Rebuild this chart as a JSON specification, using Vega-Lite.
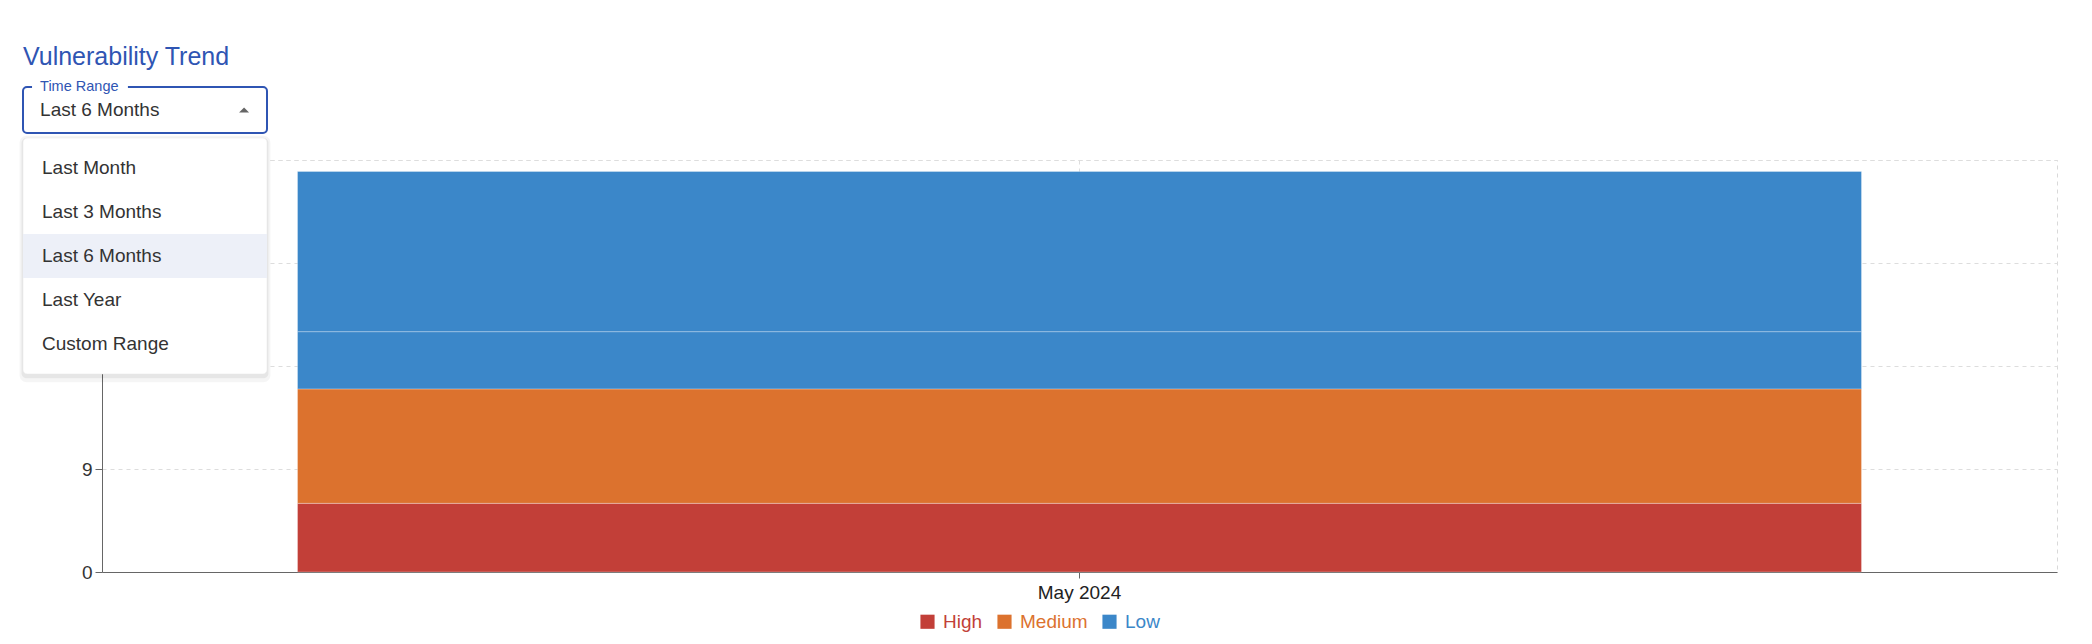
{
  "$schema": "https://vega.github.io/schema/vega-lite/v6.json",
  "autosize": {"type": "none"},
  "padding": {"left": 102, "top": 160, "right": 35, "bottom": 72},
  "width": 1955,
  "height": 412,
  "background": "white",
  "title": {
    "text": "Vulnerability Trend",
    "anchor": "start",
    "frame": "group",
    "dx": -79,
    "dy": 24,
    "offset": 13,
    "baseline": "alphabetic",
    "fontSize": 25,
    "fontWeight": "normal",
    "color": "#2f55b3",
    "font": "Liberation Sans"
  },
  "resolve": {"scale": {"x": "independent", "y": "independent"}},
  "layer": [
    {
      "data": {"values": [
        {"month": "May 2024", "severity": "High", "count": 6, "rank": 1},
        {"month": "May 2024", "severity": "Medium", "count": 10, "rank": 2},
        {"month": "May 2024", "severity": "Low", "count": 5, "rank": 3},
        {"month": "May 2024", "severity": "Low", "count": 14, "rank": 4}
      ]},
      "mark": {"type": "bar", "stroke": "#ffffff", "strokeWidth": 1, "strokeOpacity": 0.3},
      "encoding": {
        "x": {
          "field": "month", "type": "nominal",
          "scale": {"paddingInner": 0.2, "paddingOuter": 0.1},
          "axis": {"title": null, "labelAngle": 0, "grid": true, "bandPosition": 0.5, "tickSize": 6, "labelPadding": 5, "labelFontSize": 19, "labelColor": "#222222"}
        },
        "y": {
          "field": "count", "type": "quantitative", "stack": "zero",
          "scale": {"domain": [0, 36], "nice": false},
          "axis": {"title": null, "values": [0, 9, 18, 27, 36], "labelExpr": "datum.value <= 9 ? datum.label : ''", "tickSize": 7, "labelPadding": 3, "labelFontSize": 19, "labelColor": "#333333"}
        },
        "color": {
          "field": "severity", "type": "nominal",
          "scale": {"domain": ["High", "Medium", "Low"], "range": ["#c23f38", "#dc722e", "#3b87c9"]},
          "legend": {
            "title": null,
            "orient": "none",
            "direction": "horizontal",
            "legendX": 816,
            "legendY": 452,
            "padding": 0,
            "symbolType": "square",
            "symbolSize": 200,
            "symbolStrokeWidth": 0,
            "symbolOpacity": 1,
            "labelFontSize": 19,
            "labelOffset": 6,
            "columnPadding": 12,
            "labelColor": {"expr": "scale('color', datum.value)"}
          }
        },
        "order": {"field": "rank", "type": "quantitative"}
      }
    },
    {
      "data": {"values": [{}]},
      "mark": {"type": "rect", "fill": "#000000", "opacity": 0.04, "cornerRadius": 7},
      "encoding": {
        "x": {"datum": -0.014, "type": "quantitative", "scale": {"domain": [0, 1], "range": [-79, 165], "nice": false, "zero": false}, "axis": null},
        "x2": {"datum": 1.014},
        "y": {"datum": -0.01, "type": "quantitative", "scale": {"domain": [0, 1], "range": [-22, 214], "nice": false, "zero": false}, "axis": null},
        "y2": {"datum": 1.035}
      }
    },
    {
      "data": {"values": [{}]},
      "mark": {"type": "rect", "fill": "#000000", "opacity": 0.06, "cornerRadius": 5},
      "encoding": {
        "x": {"datum": -0.006, "type": "quantitative", "scale": {"domain": [0, 1], "range": [-79, 165], "nice": false, "zero": false}, "axis": null},
        "x2": {"datum": 1.006},
        "y": {"datum": 0, "type": "quantitative", "scale": {"domain": [0, 1], "range": [-22, 214], "nice": false, "zero": false}, "axis": null},
        "y2": {"datum": 1.018}
      }
    },
    {
      "data": {"values": [{}]},
      "mark": {"type": "rect", "fill": "#ffffff", "cornerRadius": 4, "stroke": "#e4e4e4", "strokeWidth": 0.5},
      "encoding": {
        "x": {"datum": 0, "type": "quantitative", "scale": {"domain": [0, 1], "range": [-79, 165], "nice": false, "zero": false}, "axis": null},
        "x2": {"datum": 1},
        "y": {"datum": 0, "type": "quantitative", "scale": {"domain": [0, 1], "range": [-22, 214], "nice": false, "zero": false}, "axis": null},
        "y2": {"datum": 1}
      }
    },
    {
      "data": {"values": [
        {"option": "Last Month", "selected": false},
        {"option": "Last 3 Months", "selected": false},
        {"option": "Last 6 Months", "selected": true},
        {"option": "Last Year", "selected": false},
        {"option": "Custom Range", "selected": false}
      ]},
      "transform": [{"filter": "datum.selected"}],
      "mark": {"type": "rect", "fill": "#edf0f8"},
      "encoding": {
        "x": {"datum": 0, "type": "quantitative", "scale": {"domain": [0, 1], "range": [-79, 165], "nice": false, "zero": false}, "axis": null},
        "x2": {"datum": 1},
        "y": {"field": "option", "type": "nominal", "scale": {"domain": ["Last Month", "Last 3 Months", "Last 6 Months", "Last Year", "Custom Range"], "range": [-14, 206], "paddingInner": 0, "paddingOuter": 0}, "axis": null}
      }
    },
    {
      "data": {"values": [
        {"option": "Last Month", "selected": false},
        {"option": "Last 3 Months", "selected": false},
        {"option": "Last 6 Months", "selected": true},
        {"option": "Last Year", "selected": false},
        {"option": "Custom Range", "selected": false}
      ]},
      "mark": {"type": "text", "align": "left", "baseline": "middle", "fontSize": 19, "color": "#333333", "font": "Liberation Sans"},
      "encoding": {
        "x": {"datum": 0.078, "type": "quantitative", "scale": {"domain": [0, 1], "range": [-79, 165], "nice": false, "zero": false}, "axis": null},
        "y": {"field": "option", "type": "nominal", "scale": {"domain": ["Last Month", "Last 3 Months", "Last 6 Months", "Last Year", "Custom Range"], "range": [-14, 206], "paddingInner": 0, "paddingOuter": 0}, "axis": null},
        "text": {"field": "option"}
      }
    },
    {
      "data": {"values": [{"label": "Time Range", "value": "Last 6 Months"}]},
      "mark": {"type": "rect", "fill": "#ffffff", "stroke": "#2f55b3", "strokeWidth": 2, "cornerRadius": 4},
      "encoding": {
        "x": {"datum": 0, "type": "quantitative", "scale": {"domain": [0, 1], "range": [-79, 165], "nice": false, "zero": false}, "axis": null},
        "x2": {"datum": 1},
        "y": {"datum": 0, "type": "quantitative", "scale": {"domain": [0, 1], "range": [-73, -27], "nice": false, "zero": false}, "axis": null},
        "y2": {"datum": 1}
      }
    },
    {
      "data": {"values": [{"label": "Time Range", "value": "Last 6 Months"}]},
      "mark": {"type": "rect", "fill": "#ffffff"},
      "encoding": {
        "x": {"datum": 0.037, "type": "quantitative", "scale": {"domain": [0, 1], "range": [-79, 165], "nice": false, "zero": false}, "axis": null},
        "x2": {"datum": 0.43},
        "y": {"datum": -0.12, "type": "quantitative", "scale": {"domain": [0, 1], "range": [-73, -27], "nice": false, "zero": false}, "axis": null},
        "y2": {"datum": 0.12}
      }
    },
    {
      "data": {"values": [{"label": "Time Range", "value": "Last 6 Months"}]},
      "mark": {"type": "text", "align": "left", "baseline": "middle", "fontSize": 14.5, "color": "#2f55b3", "font": "Liberation Sans"},
      "encoding": {
        "x": {"datum": 0.07, "type": "quantitative", "scale": {"domain": [0, 1], "range": [-79, 165], "nice": false, "zero": false}, "axis": null},
        "y": {"datum": 0, "type": "quantitative", "scale": {"domain": [0, 1], "range": [-73, -27], "nice": false, "zero": false}, "axis": null},
        "text": {"field": "label"}
      }
    },
    {
      "data": {"values": [{"label": "Time Range", "value": "Last 6 Months"}]},
      "mark": {"type": "text", "align": "left", "baseline": "middle", "fontSize": 19, "color": "#333333", "font": "Liberation Sans"},
      "encoding": {
        "x": {"datum": 0.07, "type": "quantitative", "scale": {"domain": [0, 1], "range": [-79, 165], "nice": false, "zero": false}, "axis": null},
        "y": {"datum": 0.5, "type": "quantitative", "scale": {"domain": [0, 1], "range": [-73, -27], "nice": false, "zero": false}, "axis": null},
        "text": {"field": "value"}
      }
    },
    {
      "data": {"values": [{"label": "Time Range", "value": "Last 6 Months"}]},
      "mark": {"type": "point", "shape": "M-1,0.5L1,0.5L0,-0.5Z", "filled": true, "fill": "#666666", "opacity": 1, "size": 100},
      "encoding": {
        "x": {"datum": 0.906, "type": "quantitative", "scale": {"domain": [0, 1], "range": [-79, 165], "nice": false, "zero": false}, "axis": null},
        "y": {"datum": 0.5, "type": "quantitative", "scale": {"domain": [0, 1], "range": [-73, -27], "nice": false, "zero": false}, "axis": null}
      }
    }
  ],
  "config": {
    "font": "Liberation Sans",
    "view": {"stroke": "#d9d9d9", "strokeDash": [4, 4]},
    "axis": {
      "domainColor": "#666666",
      "tickColor": "#666666",
      "gridColor": "#dddddd",
      "gridDash": [4, 4],
      "labelFont": "Liberation Sans"
    },
    "legend": {"labelFont": "Liberation Sans"}
  }
}
